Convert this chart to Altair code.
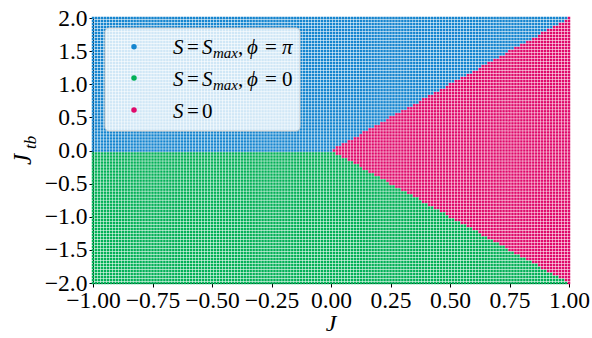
import numpy as np
import pandas as pd
import altair as alt

# ---- data ----
J_VALUES = np.linspace(-1.0, 1.0, 161)
JTB_VALUES = np.linspace(-2.0, 2.0, 89)
PHASES = ["S = Smax, phi = pi", "S = Smax, phi = 0", "S = 0"]
PHASE_COLORS = ["#1585cf", "#03b057", "#df0a6b"]
X_TICKS = [-1.0, -0.75, -0.5, -0.25, 0.0, 0.25, 0.5, 0.75, 1.0]
Y_TICKS = [-2.0, -1.5, -1.0, -0.5, 0.0, 0.5, 1.0, 1.5, 2.0]


def phase_of(j, jtb):
    if j > 0 and abs(jtb) <= 2 * j:
        return PHASES[2]
    return PHASES[0] if jtb >= 0 else PHASES[1]


rows = [(j, t, phase_of(j, t)) for j in J_VALUES for t in JTB_VALUES]
df = pd.DataFrame(rows, columns=["J", "Jtb", "phase"])

W, H = 476, 265
SERIF = "Liberation Serif"

points = alt.Chart(df).mark_square(size=6.2, opacity=1).encode(
    x=alt.X("J:Q", scale=alt.Scale(domain=[-1, 1], nice=False, zero=False),
            axis=alt.Axis(values=X_TICKS, format=".2f", title=None,
                          labelOverlap=False, labelFlush=False,
                          labelFont=SERIF, labelFontSize=23.5, labelColor="black",
                          labelPadding=1, tickSize=4, tickColor="black",
                          domainColor="black", grid=False)),
    y=alt.Y("Jtb:Q", scale=alt.Scale(domain=[-2, 2], nice=False, zero=False),
            axis=alt.Axis(values=Y_TICKS, format=".1f", title=None,
                          labelOverlap=False, labelFlush=False,
                          labelFont=SERIF, labelFontSize=23.5, labelColor="black",
                          labelPadding=2, tickSize=4, tickColor="black",
                          domainColor="black", grid=False)),
    color=alt.Color("phase:N", scale=alt.Scale(domain=PHASES, range=PHASE_COLORS),
                    legend=None),
)


def txt(s, x, y, size=21, italic=True, angle=0, align="left", baseline="alphabetic"):
    kw = dict(font=SERIF, fontSize=size, color="black", align=align,
              baseline=baseline, fontStyle="italic" if italic else "normal")
    if angle:
        kw["angle"] = angle
    return alt.Chart(pd.DataFrame({"t": [s]})).mark_text(**kw).encode(
        text="t:N", x=alt.value(x), y=alt.value(y))


# legend box
box = alt.Chart(pd.DataFrame({"a": [0]})).mark_rect(
    fill="white", fillOpacity=0.8, stroke="#cccccc", strokeWidth=1, cornerRadius=4
).encode(x=alt.value(12), x2=alt.value(207), y=alt.value(10), y2=alt.value(113))

legend_dots = alt.Chart(pd.DataFrame({"phase": PHASES, "yy": [28.7, 60, 92]})).mark_circle(
    size=30, opacity=1
).encode(
    x=alt.value(41),
    y=alt.Y("yy:Q", scale=None),
    color=alt.Color("phase:N", scale=alt.Scale(domain=PHASES, range=PHASE_COLORS), legend=None),
)

layers = [points, box, legend_dots]
for base, last in [(36, "π"), (67.5, "0")]:
    layers += [
        txt("S", 80, base),
        txt("=", 94, base, italic=False),
        txt("S", 109, base),
        txt("max", 120, base + 4, size=15),
        txt(",", 145, base, italic=False),
        txt("ϕ", 154, base),
        txt("=", 172, base, italic=False),
        txt(last, 189, base, italic=(last == "π")),
    ]
layers += [
    txt("S", 80, 99.5),
    txt("=", 94, 99.5, italic=False),
    txt("0", 109, 99.5, italic=False),
]

# axis titles
layers += [
    txt("J", 238, 313, size=24, align="center"),
    txt("J", -62, 147, size=25, angle=270),
    txt("tb", -57, 131, size=17, angle=270),
]

chart = alt.layer(*layers).properties(
    width=W, height=H,
    autosize=alt.AutoSizeParams(type="none"),
    padding={"left": 93, "top": 18, "right": 23, "bottom": 55},
).configure_view(stroke="black", strokeWidth=1.2).configure(background="white")

chart.save("out.html", embed_options={"renderer": "svg", "actions": False})
